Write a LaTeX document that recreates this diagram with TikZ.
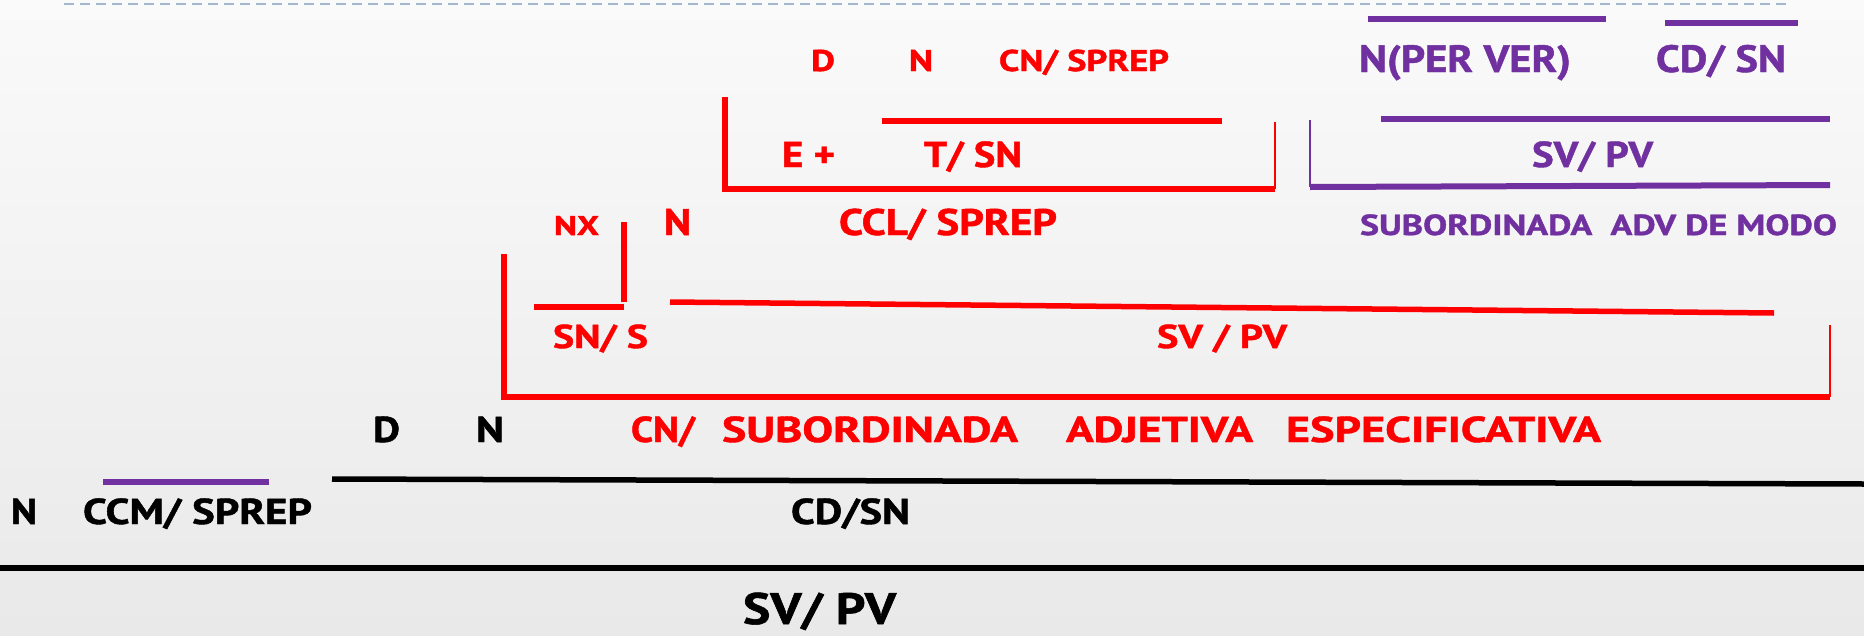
\documentclass[tikz,border=0pt]{standalone}
\usepackage{fontspec}
\setmainfont{PT Sans}[BoldFeatures={FakeBold=1.2}]
\usepackage{graphicx}
\definecolor{myred}{HTML}{FF0000}
\definecolor{mypurple}{HTML}{7030A0}
\definecolor{dashc}{HTML}{A3B8CC}
\definecolor{bgtop}{HTML}{FAFAFA}
\definecolor{bgbot}{HTML}{E9E9E9}
\newcommand{\fw}[2]{\resizebox{#1pt}{\height}{#2}}
\begin{document}
\begin{tikzpicture}[x=1pt,y=-1pt,
  lbl/.style={inner sep=0pt, outer sep=0pt, anchor=base west, font=\bfseries},
  rtxt/.style={lbl, text=myred},
  ptxt/.style={lbl, text=mypurple},
  btxt/.style={lbl, text=black},
  fs/.style={font=\bfseries\fontsize{#1}{#1}\selectfont},
  redthick/.style={draw=myred, line width=5.5pt},
  redthin/.style={draw=myred, line width=2pt},
  purthick/.style={draw=mypurple, line width=6pt},
  purthin/.style={draw=mypurple, line width=2pt},
  blkthick/.style={draw=black, line width=5.5pt},
  dashline/.style={draw=dashc, line width=2pt, dash pattern=on 10pt off 6pt}]
\shade[top color=bgtop, bottom color=bgbot] (0,0) rectangle (1864,635);
\useasboundingbox (0,0) rectangle (1864,635);

% top dashed line
\coordinate (d1) at (64,4); \coordinate (d2) at (1791,4);
\draw[dashline] (d1) -- (d2);

% ---------- red texts
\node[rtxt, fs=30] (rD) at (811,71) {\fw{24}{D}};
\node[rtxt, fs=30] (rN) at (909,71) {\fw{24}{N}};
\node[rtxt, fs=30] (rCN) at (999,71) {\fw{170}{CN/ SPREP}};
\node[rtxt, fs=36] (rE) at (782,167) {\fw{53}{E +}};
\node[rtxt, fs=36] (rT) at (924,167) {\fw{98}{T/ SN}};
\node[rtxt, fs=27] (rNX) at (554,235) {\fw{45}{NX}};
\node[rtxt, fs=37] (rN2) at (664,235) {\fw{27}{N}};
\node[rtxt, fs=37] (rCCL) at (839,235) {\fw{218}{CCL/ SPREP}};
\node[rtxt, fs=33] (rSN) at (553,348) {\fw{95}{SN/ S}};
\node[rtxt, fs=33] (rSV) at (1157,348) {\fw{130}{SV / PV}};
\node[rtxt, fs=36] (rCN2) at (631,442) {\fw{64}{CN/}};
\node[rtxt, fs=36] (rSUB) at (722,442) {\fw{296}{SUBORDINADA}};
\node[rtxt, fs=36] (rADJ) at (1066,442) {\fw{187}{ADJETIVA}};
\node[rtxt, fs=36] (rESP) at (1286,442) {\fw{315}{ESPECIFICATIVA}};

% ---------- black texts
\node[btxt, fs=36] (bD) at (373,442) {\fw{27}{D}};
\node[btxt, fs=36] (bN) at (476,442) {\fw{28}{N}};
\node[btxt, fs=36] (bN2) at (11,524) {\fw{26}{N}};
\node[btxt, fs=36] (bCCM) at (83,524) {\fw{229}{CCM/ SPREP}};
\node[btxt, fs=36] (bCD) at (791,524) {\fw{119}{CD/SN}};
\node[btxt, fs=44] (bSV) at (743,624) {\fw{153}{SV/ PV}};

% ---------- purple texts
\node[ptxt, fs=38] (pN) at (1359,72) {\fw{212}{N(PER VER)}};
\node[ptxt, fs=38] (pCD) at (1656,72) {\fw{130}{CD/ SN}};
\node[ptxt, fs=36] (pSV) at (1532,167) {\fw{121}{SV/ PV}};
\node[ptxt, fs=29] (pSUB) at (1360,235) {\fw{477}{SUBORDINADA\ \ ADV DE MODO}};

% ---------- red lines
\coordinate (a1) at (725,97); \coordinate (a2) at (725,189);
\coordinate (a3) at (1275,189); \coordinate (a4) at (1275,122);
\draw[redthick] (a1) -- (a2) -- (a3);
\draw[redthin] (a4) -- (a3);
\coordinate (t1) at (882,121); \coordinate (t2) at (1222,121);
\draw[redthick] (t1) -- (t2);
\coordinate (n1) at (624,222); \coordinate (n2) at (624,302);
\draw[redthick] (n1) -- (n2);
\coordinate (n3) at (534,307); \coordinate (n4) at (624,307);
\draw[redthick] (n3) -- (n4);
\coordinate (b1) at (504,254); \coordinate (b2) at (504,397);
\coordinate (b3) at (1830,397); \coordinate (b4) at (1830,325);
\draw[redthick] (b1) -- (b2) -- (b3);
\draw[redthin] (b4) -- (b3);
\coordinate (s1) at (670,302); \coordinate (s2) at (1774,313);
\draw[redthick] (s1) -- (s2);

% ---------- black lines
\coordinate (k1) at (332,479); \coordinate (k2) at (1864,484);
\draw[blkthick] (k1) -- (k2);
\coordinate (k3) at (0,568); \coordinate (k4) at (1864,568);
\draw[blkthick] (k3) -- (k4);

% ---------- purple lines
\coordinate (p1) at (103,482); \coordinate (p2) at (269,482);
\draw[purthick] (p1) -- (p2);
\coordinate (p3) at (1368,19); \coordinate (p4) at (1606,19);
\draw[purthick] (p3) -- (p4);
\coordinate (p5) at (1665,23); \coordinate (p6) at (1798,23);
\draw[purthick] (p5) -- (p6);
\coordinate (p7) at (1381,119); \coordinate (p8) at (1830,119);
\draw[purthick] (p7) -- (p8);
\coordinate (q1) at (1310,120); \coordinate (q2) at (1310,187);
\coordinate (q3) at (1830,185);
\draw[purthin] (q1) -- (q2);
\draw[purthick] (q2) -- (q3);
\end{tikzpicture}
\end{document}
